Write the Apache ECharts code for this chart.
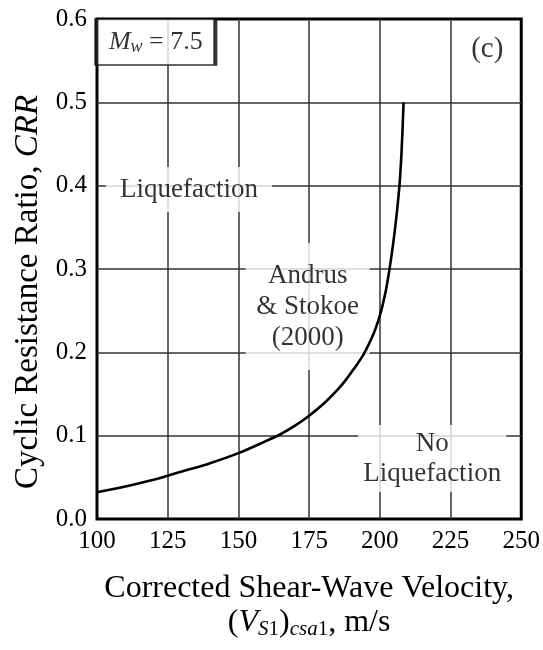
<!DOCTYPE html>
<html><head><meta charset="utf-8">
<script src="https://cdn.jsdelivr.net/npm/echarts@6/dist/echarts.min.js"></script>
<style>html,body{margin:0;padding:0;background:#fff}#c{width:543px;height:650px}</style>
</head><body><div id="c"></div>
<script>
// ---- data ----
const vs1 = [100,110,120,125,130,140,150,160,165,170,175,180,185,188,191,194,196,198,200,201,202,203,204,205,206,207,207.7,208.4];
const crr = [0.032,0.039,0.047,0.052,0.057,0.067,0.079,0.094,0.102,0.112,0.124,0.138,0.155,0.167,0.181,0.196,0.209,0.224,0.244,0.257,0.272,0.291,0.313,0.338,0.367,0.403,0.442,0.500];
const xTicks = [100,125,150,175,200,225,250];
const yTicks = [0.0,0.1,0.2,0.3,0.4,0.5,0.6];
const regionText = ['Liquefaction', 'Andrus\n& Stokoe\n(2000)', 'No\nLiquefaction'];
const magnitudeText = '{m|M}{w|w}{n| = 7.5}';
const panelText = '(c)';
const curveName = 'Andrus & Stokoe (2000)';

const FF = 'Liberation Serif';
const TC = '#000';
const chart = echarts.init(document.getElementById('c'), null, {renderer: 'canvas'});
const curve = vs1.map((v, i) => [v, crr[i]]);

chart.setOption({
  backgroundColor: '#fff',
  animation: false,
  grid: {left: 97, right: 17, top: 19, bottom: 131, show: true, borderColor: '#000', borderWidth: 3, backgroundColor: 'transparent'},
  xAxis: {
    type: 'value', min: xTicks[0], max: xTicks[xTicks.length - 1], interval: xTicks[1] - xTicks[0],
    axisLine: {show: false}, axisTick: {show: false},
    splitLine: {show: true, showMinLine: false, showMaxLine: false, lineStyle: {color: '#333', width: 1.5}},
    axisLabel: {fontFamily: FF, fontSize: 25, color: TC, margin: 10, formatter: v => String(v)},
    name: '{n|Corrected Shear-Wave Velocity,}\n{n|(}{i|V}{si|S}{sn|1}{n|)}{si|csa}{sn|1}{n|, m/s}',
    nameLocation: 'middle', nameGap: 53,
    nameTextStyle: {
      fontFamily: FF, color: TC,
      rich: {
        n: {fontFamily: FF, fontSize: 32, lineHeight: 34, color: TC},
        i: {fontFamily: FF, fontSize: 32, lineHeight: 34, fontStyle: 'italic', color: TC},
        si: {fontFamily: FF, fontSize: 21, lineHeight: 6, verticalAlign: 'bottom', fontStyle: 'italic', color: TC},
        sn: {fontFamily: FF, fontSize: 21, lineHeight: 6, verticalAlign: 'bottom', color: TC}
      }
    }
  },
  yAxis: {
    type: 'value', min: yTicks[0], max: yTicks[yTicks.length - 1], interval: 0.1,
    axisLine: {show: false}, axisTick: {show: false},
    splitLine: {show: true, showMinLine: false, showMaxLine: false, lineStyle: {color: '#333', width: 1.5}},
    axisLabel: {fontFamily: FF, fontSize: 25, color: TC, margin: 10, formatter: v => v.toFixed(1)},
    name: '{n|Cyclic Resistance Ratio, }{i|CRR}',
    nameLocation: 'middle', nameGap: 46,
    nameTextStyle: {
      fontFamily: FF, color: TC, padding: [0, 46, 0, 0],
      rich: {
        n: {fontFamily: FF, fontSize: 33, lineHeight: 33, color: TC},
        i: {fontFamily: FF, fontSize: 33, lineHeight: 33, fontStyle: 'italic', color: TC}
      }
    }
  },
  series: [
    {
      type: 'scatter', name: 'annotations', z: 3, silent: true, symbol: 'rect',
      itemStyle: {color: '#fff'},
      label: {show: true, position: 'inside', fontFamily: FF, fontSize: 27, color: TC, lineHeight: 31, textBorderWidth: 0},
      data: [
        {value: [132.5, 0.3954], symbolSize: [166, 45], label: {formatter: regionText[0]}},
        {value: [174.5, 0.255], symbolSize: [124, 127], label: {formatter: regionText[1], lineHeight: 31}},
        {value: [218.5, 0.0726], symbolSize: [148, 67], label: {formatter: regionText[2], lineHeight: 30}},
        {value: [120.8, 0.5724], symbolSize: [119, 46], itemStyle: {color: '#fff', borderColor: '#000', borderWidth: 2.5},
          label: {formatter: magnitudeText, rich: {
            m: {fontFamily: FF, fontSize: 26, lineHeight: 28, fontStyle: 'italic', color: TC},
            w: {fontFamily: FF, fontSize: 18, lineHeight: 4, verticalAlign: 'bottom', fontStyle: 'italic', color: TC},
            n: {fontFamily: FF, fontSize: 26, lineHeight: 28, color: TC}
          }}},
        {value: [238, 0.564], symbolSize: 1, itemStyle: {color: 'rgba(255,255,255,0)'}, label: {formatter: panelText, fontSize: 29}}
      ]
    },
    {
      type: 'line', name: curveName, z: 5, data: curve, showSymbol: false, smooth: 0.35,
      lineStyle: {color: '#000', width: 2.6}
    }
  ]
});
</script>
</body></html>
